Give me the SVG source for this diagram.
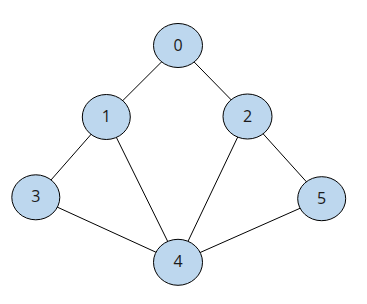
<svg xmlns="http://www.w3.org/2000/svg" width="367" height="304" viewBox="0 0 367 304">
<style>
.edge{stroke:#000;stroke-width:1;fill:none}
.node ellipse{fill:#bdd7ee;stroke:#000;stroke-width:1}
.node text{font-family:"Open Sans","Noto Sans",sans-serif;font-size:16px;fill:#1a1a1a;text-anchor:middle;dominant-baseline:central}
</style>
<rect width="367" height="304" fill="#fff"/>
<g id="connectors">
<line class="edge" x1="178" y1="45.5" x2="106.3" y2="117"/>
<line class="edge" x1="178" y1="45.5" x2="247.5" y2="116.5"/>
<line class="edge" x1="106.3" y1="117" x2="35.8" y2="197.3"/>
<line class="edge" x1="106.3" y1="117" x2="178" y2="262.3"/>
<line class="edge" x1="247.5" y1="116.5" x2="178" y2="262.3"/>
<line class="edge" x1="247.5" y1="116.5" x2="321.7" y2="198.7"/>
<line class="edge" x1="35.8" y1="197.3" x2="178" y2="262.3"/>
<line class="edge" x1="321.7" y1="198.7" x2="178" y2="262.3"/>
</g>
<g id="node0" class="node"><ellipse cx="178" cy="45.5" rx="24.5" ry="22"/><text x="178" y="44.5">0</text></g>
<g id="node1" class="node"><ellipse cx="106.3" cy="117" rx="24" ry="22.5"/><text x="106.3" y="116">1</text></g>
<g id="node2" class="node"><ellipse cx="247.5" cy="116.5" rx="24.5" ry="22.5"/><text x="247.5" y="115.5">2</text></g>
<g id="node3" class="node"><ellipse cx="35.8" cy="197.3" rx="24" ry="22.5"/><text x="35.8" y="196.3">3</text></g>
<g id="node4" class="node"><ellipse cx="178" cy="262.3" rx="24.5" ry="23"/><text x="178" y="261.3">4</text></g>
<g id="node5" class="node"><ellipse cx="321.7" cy="198.7" rx="24" ry="22"/><text x="321.7" y="197.7">5</text></g>
</svg>
